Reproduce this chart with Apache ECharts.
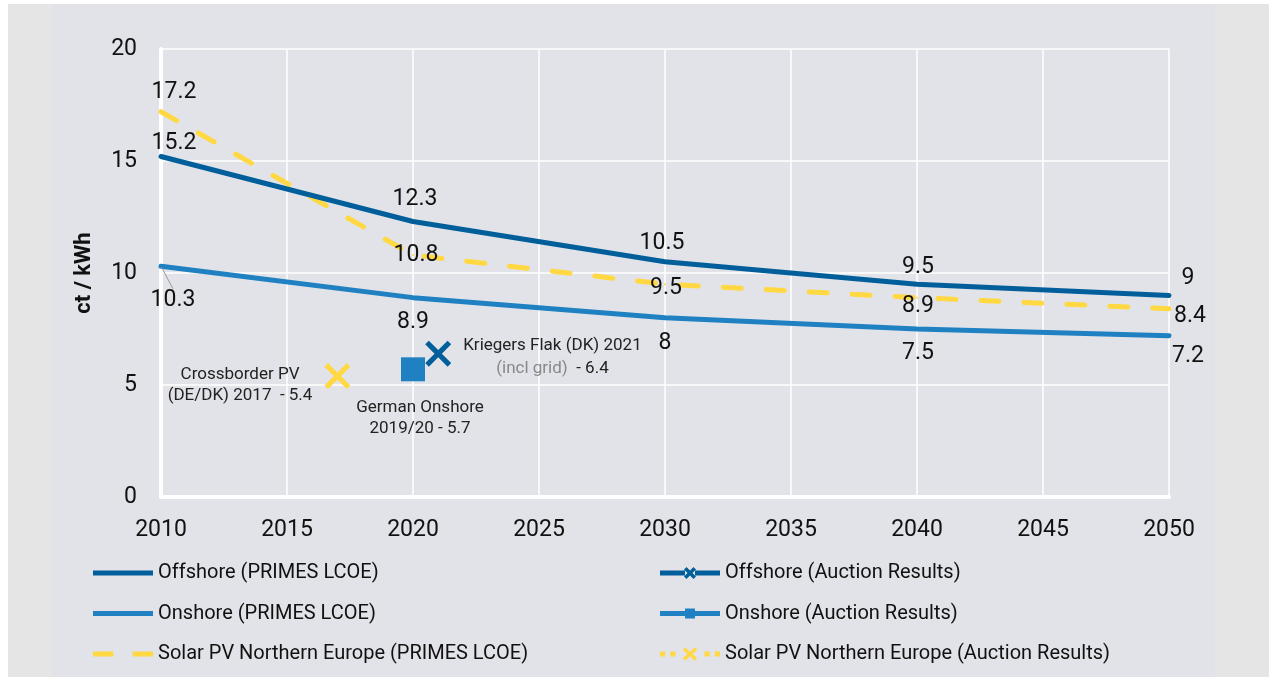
<!DOCTYPE html>
<html>
<head>
<meta charset="utf-8">
<script src="https://cdn.jsdelivr.net/npm/echarts@6/dist/echarts.min.js"></script>
<style>
  html, body { margin: 0; padding: 0; background: #ffffff; }
  #frame { position: absolute; left: 8px; top: 4px; width: 1261px; height: 673px; background: #e5e5e5; }
  #panel { position: absolute; left: 52px; top: 4px; width: 1163px; height: 673px; background: #e2e3e8; }
  #chart { position: absolute; left: 0; top: 0; width: 1269px; height: 684px; }
</style>
</head>
<body>
<div id="frame"></div>
<div id="panel"></div>
<div id="chart"></div>
<script>
// PRIMES LCOE (ct / kWh)
const years = [2010, 2020, 2030, 2040, 2050];
const offshoreLcoe = [15.2, 12.3, 10.5, 9.5, 9];
const onshoreLcoe = [10.3, 8.9, 8, 7.5, 7.2];
const solarLcoe = [17.2, 10.8, 9.5, 8.9, 8.4];

// auction results [year, ct/kWh]
const offshoreAuction = [[2021, 6.4]];
const onshoreAuction = [[2020, 5.7]];
const solarAuction = [[2017, 5.4]];

const yTicks = [0, 5, 10, 15, 20];

// label offsets (px) from each point
const offshoreOffsets = [[13, -13], [2, -22], [-3, -19], [1, -17], [19, -17]];
const solarOffsets = [[13, -19], [3, 0], [1, 4], [1, 9], [21, 7]];
const onshoreOffsets = [[12, 34], [0, 25], [0, 25], [1, 24], [19, 21]];

const cOff = "#005f9b";
const cOn = "#1f81c2";
const cSun = "#ffd842";
const font = "Roboto, 'Noto Sans', sans-serif";

const xMark = "path://M0,1.4L1.4,0L5,3.6L8.6,0L10,1.4L6.4,5L10,8.6L8.6,10L5,6.4L1.4,10L0,8.6L3.6,5Z";

// legend icons
const iconSolid = "path://M0,0H60V5H0Z";
const iconDash = "path://M0,0H20V5H0Z M39,0H59V5H39Z";
const iconOffAuction = "path://M0,3.5H25V8.5H0Z M35,3.5H60V8.5H35Z M24,2.5L26.5,0L30,3.5L33.5,0L36,2.5L32.5,6L36,9.5L33.5,12L30,8.5L26.5,12L24,9.5L27.5,6Z";
const iconOnAuction = "path://M0,2.5H60V7.5H0Z M25,0H35V10H25Z";
const iconSunAuction = "path://M0,4H5V9H0Z M10,4H15V9H10Z M43,4H48V9H43Z M53,4H58V9H53Z M22,2.5L24.5,0L29,4.5L33.5,0L36,2.5L31.5,6.5L36,10.5L33.5,13L29,8.5L24.5,13L22,10.5L26.5,6.5Z";

function lcoeData(values, offsets, extra) {
  return values.map((v, i) => {
    const item = { value: [years[i], v] };
    if (offsets) item.label = { offset: offsets[i] };
    if (extra && extra[i]) Object.assign(item, extra[i]);
    return item;
  });
}

const valueLabel = {
  show: true,
  position: "inside",
  fontSize: 23,
  fontFamily: font,
  color: "#111",
  formatter: (p) => String(p.value[1]),
};

var chart = echarts.init(document.getElementById("chart"));

const legendBase = {
  orient: "vertical",
  top: 561,
  padding: 0,
  itemWidth: 60,
  itemHeight: 16,
  itemGap: 16.5,
  itemStyle: { borderWidth: 0 },
  textStyle: { fontSize: 20, color: "#111", lineHeight: 24, fontFamily: font },
};

var option = {
  backgroundColor: "transparent",
  animation: false,
  textStyle: { fontFamily: font },
  grid: { left: 161, right: 100, top: 49, bottom: 187 },
  legend: [
    Object.assign({}, legendBase, {
      left: 93,
      data: [
        { name: "Offshore (PRIMES LCOE)", icon: iconSolid },
        { name: "Onshore (PRIMES LCOE)", icon: iconSolid },
        { name: "Solar PV Northern Europe (PRIMES LCOE)", icon: iconDash },
      ],
    }),
    Object.assign({}, legendBase, {
      left: 660,
      data: [
        { name: "Offshore (Auction Results)", icon: iconOffAuction },
        { name: "Onshore (Auction Results)", icon: iconOnAuction },
        { name: "Solar PV Northern Europe (Auction Results)", icon: iconSunAuction },
      ],
    }),
  ],
  xAxis: {
    type: "value",
    min: 2010,
    max: 2050,
    interval: 5,
    axisLine: { show: true, onZero: false, lineStyle: { color: "#ffffff", width: 4 } },
    axisTick: { show: false },
    axisLabel: {
      fontSize: 23,
      color: "#111",
      margin: 22,
      formatter: (v) => String(v),
    },
    splitLine: { show: true, lineStyle: { color: "#ffffff", width: 1.5 } },
  },
  yAxis: {
    type: "value",
    min: yTicks[0],
    max: yTicks[yTicks.length - 1],
    interval: 5,
    name: "ct / kWh",
    nameLocation: "middle",
    nameGap: 66,
    nameTextStyle: { fontSize: 22, fontWeight: "bold", color: "#111", fontFamily: font },
    axisLine: { show: true, lineStyle: { color: "#ffffff", width: 4 } },
    axisTick: { show: false },
    axisLabel: { fontSize: 23, color: "#111", margin: 24 },
    splitLine: { show: true, lineStyle: { color: "#ffffff", width: 1.5 } },
  },
  series: [
    {
      name: "Offshore (PRIMES LCOE)",
      type: "line",
      data: lcoeData(offshoreLcoe, offshoreOffsets),
      symbol: "circle",
      symbolSize: 2,
      itemStyle: { color: cOff, borderWidth: 0 },
      lineStyle: { color: cOff, width: 5, cap: "round" },
      label: valueLabel,
      z: 3,
    },
    {
      name: "Onshore (PRIMES LCOE)",
      type: "line",
      data: lcoeData(onshoreLcoe, null, {
        0: { labelLine: { show: true, lineStyle: { color: "#999", width: 1 } } },
      }),
      symbol: "circle",
      symbolSize: 2,
      itemStyle: { color: cOn, borderWidth: 0 },
      lineStyle: { color: cOn, width: 5, cap: "round" },
      label: valueLabel,
      labelLayout: (p) => ({ dx: onshoreOffsets[p.dataIndex][0], dy: onshoreOffsets[p.dataIndex][1] }),
      labelLine: { show: false, lineStyle: { color: "#999", width: 1 } },
      z: 3,
    },
    {
      name: "Solar PV Northern Europe (PRIMES LCOE)",
      type: "line",
      data: lcoeData(solarLcoe, solarOffsets),
      symbol: "circle",
      symbolSize: 2,
      itemStyle: { color: cSun, borderWidth: 0 },
      lineStyle: { color: cSun, width: 5, type: [18, 25], cap: "round" },
      label: valueLabel,
      z: 2,
    },
    {
      name: "Offshore (Auction Results)",
      type: "line",
      data: offshoreAuction,
      symbol: xMark,
      symbolSize: 26,
      itemStyle: { color: cOff, borderWidth: 0 },
      lineStyle: { color: cOff, width: 5 },
      label: {
        show: true,
        position: "right",
        distance: 12,
        offset: [0, 4],
        formatter: () => "{a|Kriegers Flak (DK) 2021}\n{g|(incl grid)}{a|  - 6.4}",
        rich: {
          a: { fontSize: 17, color: "#222", align: "center", lineHeight: 23, fontFamily: font },
          g: { fontSize: 17, color: "#888", align: "center", lineHeight: 23, fontFamily: font },
        },
      },
      z: 5,
    },
    {
      name: "Onshore (Auction Results)",
      type: "line",
      data: onshoreAuction,
      symbol: "rect",
      symbolSize: 24,
      itemStyle: { color: cOn, borderWidth: 0 },
      lineStyle: { color: cOn, width: 5 },
      label: {
        show: true,
        position: "bottom",
        distance: 16,
        offset: [7, 0],
        formatter: () => "{a|German Onshore}\n{a|2019/20 - 5.7}",
        rich: {
          a: { fontSize: 17, color: "#222", align: "center", lineHeight: 21, fontFamily: font },
        },
      },
      z: 5,
    },
    {
      name: "Solar PV Northern Europe (Auction Results)",
      type: "line",
      data: solarAuction,
      symbol: xMark,
      symbolSize: 26,
      itemStyle: { color: cSun, borderWidth: 0 },
      lineStyle: { color: cSun, width: 5, type: "dotted" },
      label: {
        show: true,
        position: "left",
        distance: 12,
        offset: [0, 9],
        formatter: () => "{a|Crossborder PV}\n{a|(DE/DK) 2017  - 5.4}",
        rich: {
          a: { fontSize: 17, color: "#222", align: "center", lineHeight: 21, fontFamily: font },
        },
      },
      z: 5,
    },
  ],
};
option && chart.setOption(option);
</script>
</body>
</html>
